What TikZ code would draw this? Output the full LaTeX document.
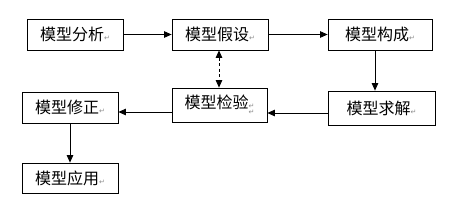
\documentclass[tikz,border=0pt]{standalone}
\usepackage{fontspec}
\usepackage{xcolor}
\usetikzlibrary{arrows.meta}
\setmainfont{Noto Sans CJK SC}
\newfontfamily\djv{DejaVu Sans}
\definecolor{huise}{HTML}{8C8C8C}
\newcommand{\hc}{{\color{huise}\djv\fontsize{7}{7}\selectfont ↵}}

\begin{document}
\begin{tikzpicture}[
  x=1pt, y=-1pt,
  font=\fontsize{16}{18}\selectfont,
  kuang/.style={draw, line width=0.8pt, inner sep=2pt, minimum height=31pt},
  jiantou/.style={-{Triangle[length=7.5pt,width=6.5pt]}, line width=0.8pt},
  xuxian/.style={{Triangle[length=7.5pt,width=6.5pt]}-{Triangle[length=7.5pt,width=6.5pt]}, line width=0.8pt, dash pattern=on 3pt off 2.5pt}
]
  \useasboundingbox[fill=white] (0,0) rectangle (456,210);
  \node[kuang, minimum width=96pt] (fx) at (75,34.5) {模型分析\hc};
  \node[kuang, minimum width=96pt] (js) at (220,34.5) {模型假设\hc};
  \node[kuang, minimum width=104pt] (gc) at (380,34.5) {模型构成\hc};
  \node[kuang, minimum width=107pt, minimum height=34pt] (qj) at (381.5,108) {模型求解\hc};
  \node[kuang, minimum width=95pt, minimum height=34pt, align=right] (jy) at (219.5,105) {模型检验\hc\\[-12pt]\hc\hspace{1.5pt}};
  \node[kuang, minimum width=96pt] (xz) at (70,107.5) {模型修正\hc};
  \node[kuang, minimum width=96pt, minimum height=30pt] (yy) at (70,178) {模型应用\hc};
  \draw[jiantou] (fx) -- (js);
  \draw[jiantou] (js) -- (gc);
  \draw[jiantou] ([xshift=-5pt]gc.south) -- ([xshift=-5pt]gc.south |- qj.north);
  \draw[jiantou] ([yshift=-5pt]qj.west) -- ([yshift=-5pt]qj.west -| jy.east);
  \draw[jiantou] ([yshift=-7pt]jy.west) -- ([yshift=-7pt]jy.west -| xz.east);
  \draw[jiantou] (xz) -- (yy);
  \draw[xuxian] ([xshift=-1pt]js.south) -- ([xshift=-1pt]js.south |- jy.north);
\end{tikzpicture}
\end{document}
